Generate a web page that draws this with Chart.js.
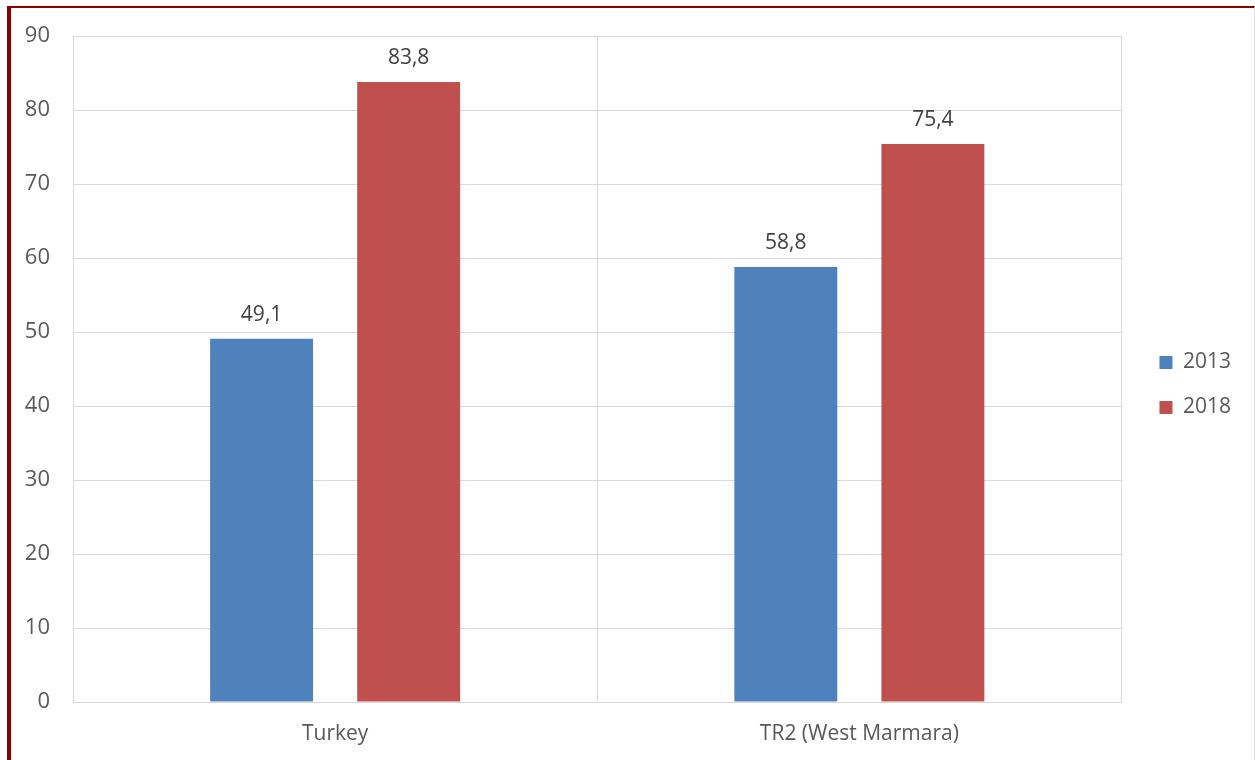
<!DOCTYPE html>
<html lang="en">
<head>
    <meta charset="UTF-8">
    <title>Turkey vs TR2 (West Marmara), 2013 and 2018</title>
    <script src="https://cdn.jsdelivr.net/npm/chart.js"></script>
    <style>
        html, body {
            margin: 0;
            padding: 0;
            background: #ffffff;
            overflow: hidden;
        }
        .frame {
            position: absolute;
            left: 7px;
            top: 6px;
            width: 1243px;
            height: 754px;
            border-left: 4px solid #8b0000;
            border-top: 2px solid #8b0000;
            border-right: 1px solid #e3e3e3;
        }
        .chart-box {
            position: absolute;
            left: 0;
            top: 0;
            width: 1243px;
            height: 752px;
        }
    </style>
</head>
<body>
    <div class="frame">
        <div class="chart-box">
            <canvas id="barChart"></canvas>
        </div>
    </div>

    <script>
        // chart values
        const categories = ['Turkey', 'TR2 (West Marmara)'];
        const seriesNames = ['2013', '2018'];
        const values2013 = [49.1, 58.8];
        const values2018 = [83.8, 75.4];
        const yTicks = [0, 10, 20, 30, 40, 50, 60, 70, 80, 90];

        const fontName = "'Open Sans', 'Liberation Sans', sans-serif";
        const textColor = '#595959';

        // draws the value over each bar, with a comma as decimal mark
        const barLabels = {
            id: 'barLabels',
            afterDatasetsDraw(chart) {
                const ctx = chart.ctx;
                ctx.save();
                ctx.font = '21px ' + fontName;
                ctx.fillStyle = '#404040';
                ctx.textAlign = 'center';
                ctx.textBaseline = 'middle';
                chart.data.datasets.forEach((ds, i) => {
                    chart.getDatasetMeta(i).data.forEach((bar, j) => {
                        const txt = ds.data[j].toFixed(1).replace('.', ',');
                        ctx.fillText(txt, bar.x, bar.y - 24);
                    });
                });
                ctx.restore();
            }
        };

        // push the legend a bit away from the plot area
        const legendShift = {
            id: 'legendShift',
            afterLayout(chart) {
                chart.legend.left += 14;
                chart.legend.right += 14;
            }
        };

        const ctx = document.getElementById('barChart').getContext('2d');
        const barChart = new Chart(ctx, {
            type: 'bar',
            data: {
                labels: categories,
                datasets: [{
                    label: seriesNames[0],
                    data: values2013,
                    backgroundColor: '#4f81bd'
                }, {
                    label: seriesNames[1],
                    data: values2018,
                    backgroundColor: '#c0504d'
                }]
            },
            options: {
                responsive: true,
                maintainAspectRatio: false,
                animation: false,
                categoryPercentage: 0.561,
                barPercentage: 0.70,
                layout: {
                    padding: { top: 16, right: 27, bottom: 14, left: 0 }
                },
                plugins: {
                    tooltip: { enabled: false },
                    legend: {
                        position: 'right',
                        labels: {
                            boxWidth: 13,
                            boxHeight: 13,
                            padding: 24,
                            color: textColor,
                            font: { family: fontName, size: 21 }
                        }
                    }
                },
                scales: {
                    x: {
                        afterFit(axis) {
                            axis.height = 44;
                            axis.paddingLeft = 0;
                            axis.paddingRight = 0;
                        },
                        grid: {
                            offset: true,
                            color: '#d9d9d9',
                            drawTicks: false
                        },
                        border: { color: '#d9d9d9' },
                        ticks: {
                            padding: 19,
                            color: textColor,
                            font: { family: fontName, size: 21 }
                        }
                    },
                    y: {
                        min: 0,
                        max: 90,
                        afterBuildTicks(axis) {
                            axis.ticks = yTicks.map(v => ({ value: v }));
                        },
                        afterFit(axis) {
                            axis.width = 62;
                            axis.paddingTop = 28;
                            axis.paddingBottom = 0;
                        },
                        grid: {
                            color: '#d9d9d9',
                            drawTicks: false
                        },
                        border: { color: '#d9d9d9' },
                        ticks: {
                            padding: 23,
                            color: textColor,
                            font: { family: fontName, size: 22 }
                        }
                    }
                }
            },
            plugins: [barLabels, legendShift]
        });
    </script>
</body>
</html>
